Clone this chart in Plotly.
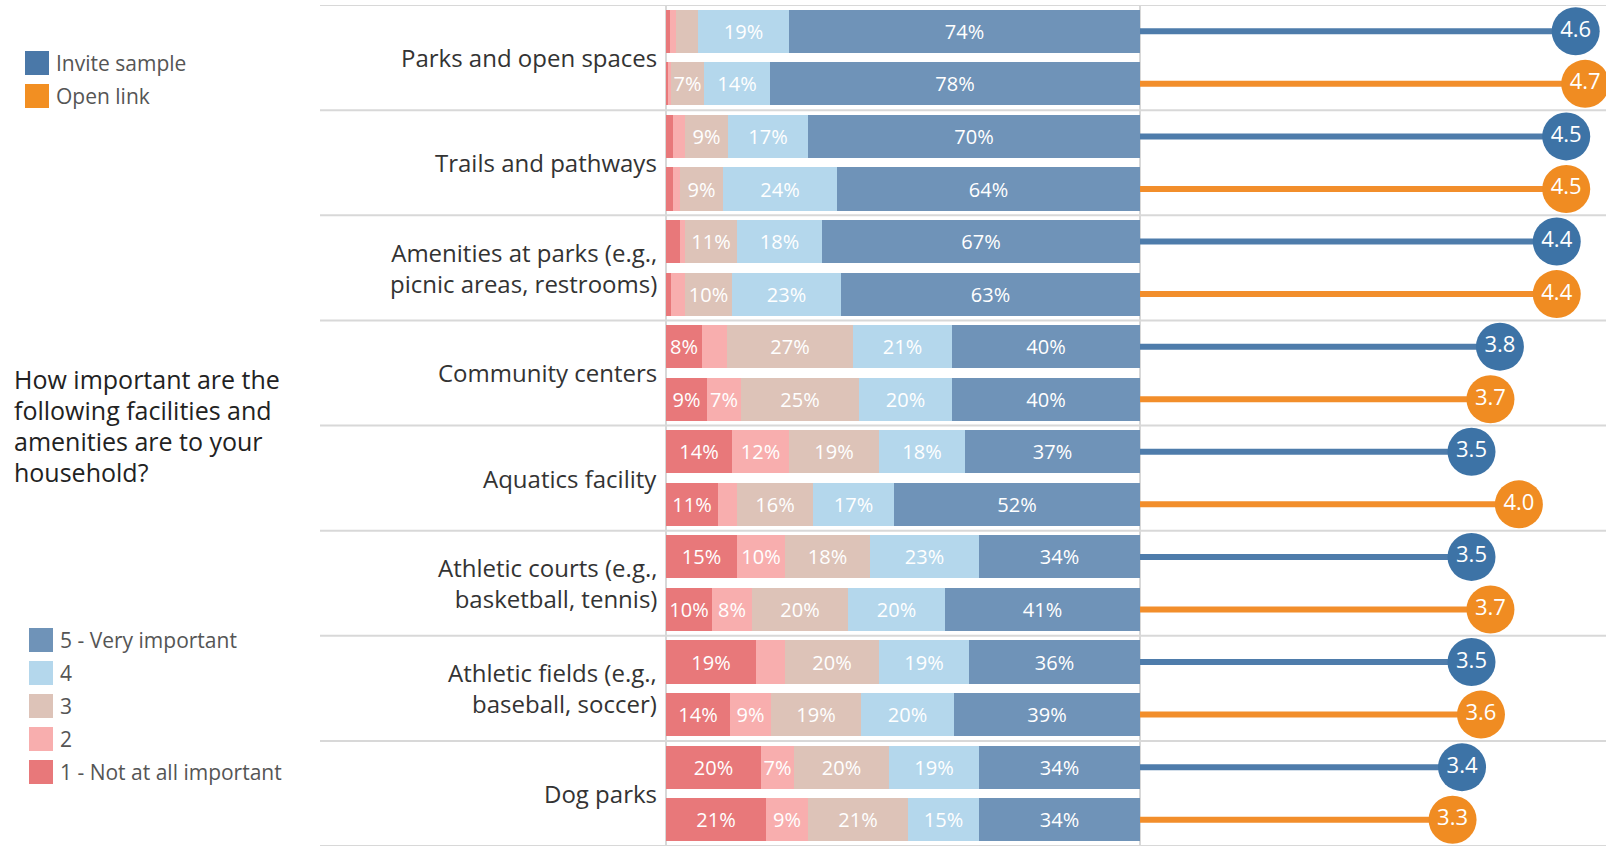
import plotly.graph_objects as go

# ---- data -------------------------------------------------------------
categories = [
    "Parks and open spaces",
    "Trails and pathways",
    "Amenities at parks (e.g.,<br>picnic areas, restrooms)",
    "Community centers",
    "Aquatics facility",
    "Athletic courts (e.g.,<br>basketball, tennis)",
    "Athletic fields (e.g.,<br>baseball, soccer)",
    "Dog parks",
]
samples = ["Invite sample", "Open link"]
levels = ["1 - Not at all important", "2", "3", "4", "5 - Very important"]

# percent of respondents per importance level, one value per facility
invite_1 = [0.9, 1.5, 3.0, 7.6, 14, 15, 19, 20]
invite_2 = [1.3, 2.5, 1.0, 5.2, 12, 10, 6, 7]
invite_3 = [4.6, 9, 11, 26.7, 19, 18, 20, 20]
invite_4 = [19.2, 17, 18, 20.9, 18, 23, 19, 19]
invite_5 = [74, 70, 67, 39.6, 37, 34, 36, 34]

open_1 = [0.4, 1.5, 1.1, 8.6, 11, 9.7, 13.6, 21]
open_2 = [0.6, 1.5, 2.9, 7.2, 4, 8.4, 8.6, 9]
open_3 = [7, 9, 10, 25.0, 16, 20.4, 18.9, 21]
open_4 = [14, 24, 23, 19.6, 17, 20.4, 19.6, 15]
open_5 = [78, 64, 63, 39.6, 52, 41.1, 39.3, 34]

# average rating (1-5 scale)
mean_invite = [4.6, 4.5, 4.4, 3.8, 3.5, 3.5, 3.5, 3.4]
mean_open = [4.7, 4.5, 4.4, 3.7, 4.0, 3.7, 3.6, 3.3]

question_lines = [
    "How important are the",
    "following facilities and",
    "amenities are to your",
    "household?",
]

# ---- styling ----------------------------------------------------------
W, H = 1606, 850
M_T, M_B = 5, 4
PH = H - M_T - M_B
FONT = "Open Sans"
level_colors = ["#e8787a", "#f8aeae", "#ddc3b8", "#b4d7ec", "#6f93b8"]
sample_line = ["#4e7cab", "#f28e2b"]
sample_dot = ["#3d73a6", "#f08c22"]
sample_swatch = ["#4a78a8", "#f28f22"]
GRID = "#d8d8d8"

BAR_X0, BAR_X1 = 666, 1139   # pixel span of the stacked bars
DOT_X0 = 1140                # start of the average-rating panel


def px_x(px):
    return px / W


def px_y(py):
    # paper y for a pixel row measured from the top of the figure
    return 1 - (py - M_T) / PH


n = len(categories)
rows = list(range(2 * n))    # invite row then open-link row for each facility


def interleave(a, b):
    out = []
    for u, v in zip(a, b):
        out += [u, v]
    return out


invite_levels = [invite_1, invite_2, invite_3, invite_4, invite_5]
open_levels = [open_1, open_2, open_3, open_4, open_5]

fig = go.Figure()

for k in range(5):
    xs = interleave(invite_levels[k], open_levels[k])
    fig.add_trace(go.Bar(
        x=xs, y=rows, orientation="h", name=levels[k],
        marker=dict(color=level_colors[k], line=dict(width=0)),
        width=0.82,
        text=[f"{v:.0f}%" if v >= 6.5 else "" for v in xs],
        textposition="inside", insidetextanchor="middle", textangle=0,
        textfont=dict(family=FONT, size=20, color="white"),
        showlegend=False, hoverinfo="skip",
    ))

means = [mean_invite, mean_open]
for s in range(2):
    ys = [2 * g + s for g in range(n)]
    lx, ly = [], []
    for v, y in zip(means[s], ys):
        lx += [0, v, None]
        ly += [y, y, None]
    fig.add_trace(go.Scatter(
        x=lx, y=ly, mode="lines", xaxis="x2", yaxis="y",
        line=dict(color=sample_line[s], width=6),
        showlegend=False, hoverinfo="skip",
    ))
    fig.add_trace(go.Scatter(
        x=means[s], y=ys, mode="markers+text", xaxis="x2", yaxis="y",
        marker=dict(size=48, color=sample_dot[s], line=dict(width=0)),
        text=[f"{v:.1f}" for v in means[s]], textposition="middle center",
        textfont=dict(family=FONT, size=22, color="white"),
        name=samples[s], showlegend=False, hoverinfo="skip",
    ))

shapes = []
# horizontal rules between facilities
for k in range(n + 1):
    shapes.append(dict(type="line", xref="paper", yref="y",
                       x0=px_x(320), x1=1, y0=-0.5 + 2 * k, y1=-0.5 + 2 * k,
                       line=dict(color=GRID, width=2), layer="below"))
# vertical rules at the start of each panel
for px in (BAR_X0, DOT_X0):
    shapes.append(dict(type="line", xref="paper", yref="y",
                       x0=px_x(px), x1=px_x(px), y0=-0.5, y1=2 * n - 0.5,
                       line=dict(color=GRID, width=2), layer="below"))

annotations = []
for g, cat in enumerate(categories):
    annotations.append(dict(
        xref="paper", yref="y", x=px_x(659), y=2 * g + 0.5,
        xanchor="right", yanchor="middle", align="right", showarrow=False,
        text=cat, font=dict(family=FONT, size=24, color="#333333"),
    ))

# question text, one annotation per line for tighter leading
for i, line in enumerate(question_lines):
    annotations.append(dict(
        xref="paper", yref="paper", x=px_x(12), y=px_y(379 + 31 * i),
        xanchor="left", yanchor="middle", align="left", showarrow=False,
        text=line, font=dict(family=FONT, size=25, color="#222222"),
    ))


def legend_item(x, ytop, color, label):
    shapes.append(dict(type="rect", xref="paper", yref="paper",
                       x0=px_x(x), x1=px_x(x + 24),
                       y0=px_y(ytop + 24), y1=px_y(ytop),
                       fillcolor=color, line=dict(width=0)))
    annotations.append(dict(
        xref="paper", yref="paper", x=px_x(x + 29), y=px_y(ytop + 12),
        xanchor="left", yanchor="middle", showarrow=False, text=label,
        font=dict(family=FONT, size=21, color="#555555"),
    ))


# sample legend (top left)
legend_item(25, 51, sample_swatch[0], samples[0])
legend_item(25, 84, sample_swatch[1], samples[1])
# importance legend (bottom left), highest level first
for i, k in enumerate(range(4, -1, -1)):
    legend_item(29, 628 + 33 * i, level_colors[k], levels[k])

fig.update_layout(
    width=W, height=H,
    margin=dict(l=0, r=0, t=M_T, b=M_B, pad=0),
    paper_bgcolor="white", plot_bgcolor="white",
    barmode="stack", bargap=0,
    uniformtext=dict(minsize=20, mode="show"),
    font=dict(family=FONT),
    xaxis=dict(domain=[px_x(BAR_X0), px_x(BAR_X1 + 1)], range=[0, 100],
               showgrid=False, zeroline=False, showticklabels=False,
               ticks="", anchor="y"),
    xaxis2=dict(domain=[px_x(DOT_X0), 1], range=[0, 4.92],
                showgrid=False, zeroline=False, showticklabels=False,
                ticks="", anchor="y"),
    yaxis=dict(range=[2 * n - 0.5, -0.5], showgrid=False, zeroline=False,
               showticklabels=False, ticks=""),
    shapes=shapes, annotations=annotations,
)

fig.write_html("out.html")
